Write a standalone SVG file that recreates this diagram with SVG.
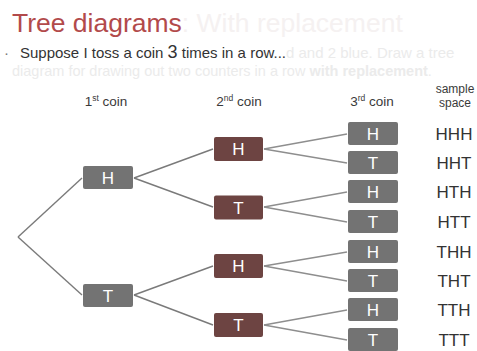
<svg xmlns="http://www.w3.org/2000/svg" width="477" height="351" viewBox="0 0 477 351">
  <style>
    text { font-family: "Liberation Sans", Arial, sans-serif; }
    .title { font-size: 26.5px; fill: #b24a4b; }
    .body { font-size: 15px; fill: #333333; }
    .col { font-size: 13.5px; fill: #3a3a3a; text-anchor: middle; }
    .ss { font-size: 12px; fill: #3a3a3a; text-anchor: middle; }
    .out { font-size: 17px; fill: #333333; text-anchor: middle; }
    .grey rect { fill: #737373; }
    .brown rect { fill: #6d4442; }
    .node text { font-size: 17px; fill: #ffffff; text-anchor: middle; }
    .edges line { stroke: #7a7a7a; stroke-width: 1.4; }
    .edges .light { stroke: #8e8e8e; }
  </style>

  <rect width="477" height="351" fill="#ffffff"/>

  <!-- heading -->
  <text class="title" x="12" y="32">Tree diagrams<tspan fill="#f5f1f1">: With replacement</tspan></text>
  <text x="4" y="58" font-size="15" fill="#777">·</text>
  <text class="body" x="20" y="58">Suppose I toss a coin <tspan font-size="18">3</tspan> times in a row...<tspan fill="#ebebeb">d and 2 blue. Draw a tree</tspan></text>
  <text x="12" y="76" font-size="14.5" fill="#ebebeb">diagram for drawing out two counters in a row <tspan font-weight="bold">with replacement</tspan>.</text>

  <!-- column headers -->
  <text class="col" x="106" y="106">1<tspan font-size="8.5" dy="-5">st</tspan><tspan dy="5"> coin</tspan></text>
  <text class="col" x="239" y="106">2<tspan font-size="8.5" dy="-5">nd</tspan><tspan dy="5"> coin</tspan></text>
  <text class="col" x="372" y="106">3<tspan font-size="8.5" dy="-5">rd</tspan><tspan dy="5"> coin</tspan></text>
  <text class="ss" x="455" y="93">sample</text>
  <text class="ss" x="455" y="107">space</text>

  <!-- connectors -->
  <g id="connectors" class="edges">
    <line x1="18" y1="237" x2="82" y2="178"/>
    <line x1="18" y1="237" x2="82" y2="295"/>
    <line x1="134" y1="178" x2="213" y2="149"/>
    <line x1="134" y1="178" x2="213" y2="207"/>
    <line x1="134" y1="295" x2="213" y2="266"/>
    <line x1="134" y1="295" x2="213" y2="325"/>
    <line class="light" x1="264" y1="149" x2="347" y2="134"/>
    <line class="light" x1="264" y1="149" x2="347" y2="163"/>
    <line class="light" x1="264" y1="207" x2="347" y2="192"/>
    <line class="light" x1="264" y1="207" x2="347" y2="222"/>
    <line class="light" x1="264" y1="266" x2="347" y2="252"/>
    <line class="light" x1="264" y1="266" x2="347" y2="281"/>
    <line class="light" x1="264" y1="325" x2="347" y2="310"/>
    <line class="light" x1="264" y1="325" x2="347" y2="340"/>
  </g>

  <!-- first coin -->
  <g id="c1-H" class="node grey"><rect x="83" y="166" width="50" height="23" rx="2"/><text x="108" y="184">H</text></g>
  <g id="c1-T" class="node grey"><rect x="83" y="284" width="50" height="23" rx="2"/><text x="108" y="302">T</text></g>

  <!-- second coin -->
  <g id="c2-HH" class="node brown"><rect x="214" y="137" width="49" height="24" rx="2"/><text x="238.5" y="155">H</text></g>
  <g id="c2-HT" class="node brown"><rect x="214" y="195.5" width="49" height="24" rx="2"/><text x="238.5" y="213.5">T</text></g>
  <g id="c2-TH" class="node brown"><rect x="214" y="254" width="49" height="24" rx="2"/><text x="238.5" y="272">H</text></g>
  <g id="c2-TT" class="node brown"><rect x="214" y="313" width="49" height="24" rx="2"/><text x="238.5" y="331">T</text></g>

  <!-- third coin -->
  <g id="c3-HHH" class="node grey"><rect x="348" y="122" width="50" height="23" rx="2"/><text x="373" y="140">H</text></g>
  <g id="c3-HHT" class="node grey"><rect x="348" y="151" width="50" height="23" rx="2"/><text x="373" y="169">T</text></g>
  <g id="c3-HTH" class="node grey"><rect x="348" y="180" width="50" height="23" rx="2"/><text x="373" y="198">H</text></g>
  <g id="c3-HTT" class="node grey"><rect x="348" y="210" width="50" height="23" rx="2"/><text x="373" y="228">T</text></g>
  <g id="c3-THH" class="node grey"><rect x="348" y="240" width="50" height="23" rx="2"/><text x="373" y="258">H</text></g>
  <g id="c3-THT" class="node grey"><rect x="348" y="269" width="50" height="23" rx="2"/><text x="373" y="287">T</text></g>
  <g id="c3-TTH" class="node grey"><rect x="348" y="298" width="50" height="23" rx="2"/><text x="373" y="316">H</text></g>
  <g id="c3-TTT" class="node grey"><rect x="348" y="328" width="50" height="23" rx="2"/><text x="373" y="346">T</text></g>

  <!-- sample space -->
  <g id="outcomes">
    <text class="out" x="454" y="140">HHH</text>
    <text class="out" x="454" y="169">HHT</text>
    <text class="out" x="454" y="198">HTH</text>
    <text class="out" x="454" y="228">HTT</text>
    <text class="out" x="454" y="258">THH</text>
    <text class="out" x="454" y="287">THT</text>
    <text class="out" x="454" y="316">TTH</text>
    <text class="out" x="454" y="346">TTT</text>
  </g>
</svg>
